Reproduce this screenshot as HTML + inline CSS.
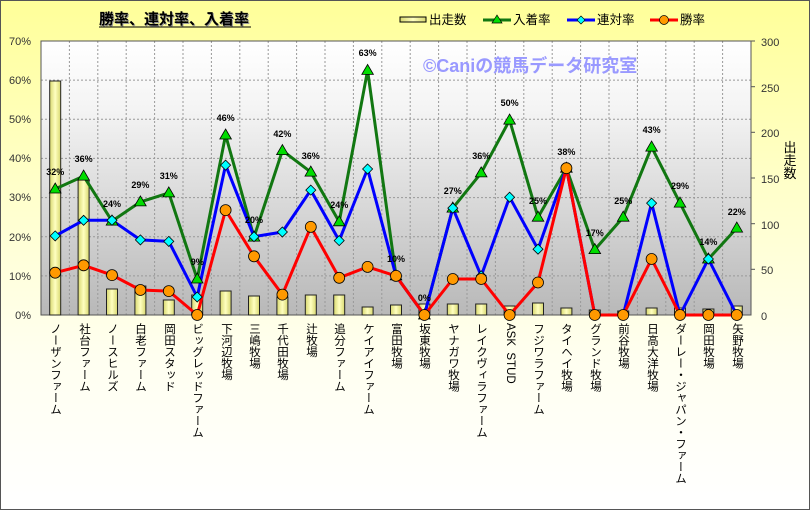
<!DOCTYPE html>
<html><head><meta charset="utf-8">
<style>
html,body{margin:0;padding:0;}
body{width:810px;height:510px;overflow:hidden;font-family:"Liberation Sans","Noto Sans CJK JP",sans-serif;}
#wrap{position:relative;width:808px;height:508px;border:1px solid #555;background:linear-gradient(to bottom,#ffff99 0%,#ffffc8 35%,#fffff0 70%,#ffffff 100%);}
.xl{position:absolute;top:322px;writing-mode:vertical-rl;font-size:11.5px;line-height:12px;color:#000;font-family:"Liberation Sans","Noto Sans CJK JP",sans-serif;white-space:nowrap;}
</style></head><body><div id="wrap">
<svg width="810" height="510" style="position:absolute;left:-1px;top:-1px" xmlns="http://www.w3.org/2000/svg">
<defs>
<linearGradient id="pg" x1="0" y1="0" x2="0" y2="1"><stop offset="0" stop-color="#ffffff"/><stop offset="0.25" stop-color="#f4f4f4"/><stop offset="1" stop-color="#b8b8b8"/></linearGradient>
<linearGradient id="bg" x1="0" y1="0" x2="1" y2="0"><stop offset="0" stop-color="#d8d870"/><stop offset="0.5" stop-color="#ffffc0"/><stop offset="1" stop-color="#d8d870"/></linearGradient>
</defs>
<text x="100" y="25" font-size="15" font-weight="bold" fill="#999" font-family="Liberation Sans,Noto Sans CJK JP,sans-serif">勝率、連対率、入着率</text>
<text x="99" y="24" font-size="15" font-weight="bold" fill="#000" font-family="Liberation Sans,Noto Sans CJK JP,sans-serif">勝率、連対率、入着率</text>
<line x1="99" y1="27" x2="251" y2="27" stroke="#000" stroke-width="1"/>
<rect x="400" y="17" width="26" height="5" fill="url(#bg)" stroke="#000"/>
<text x="429" y="24" font-size="12.5" font-family="Liberation Sans,Noto Sans CJK JP,sans-serif">出走数</text>
<line x1="483" y1="20" x2="511" y2="20" stroke="#117711" stroke-width="3"/>
<polygon points="497,15 502,23 492,23" fill="#00dd00" stroke="#000" stroke-width="0.7"/>
<text x="513" y="24" font-size="12.5" font-family="Liberation Sans,Noto Sans CJK JP,sans-serif">入着率</text>
<line x1="567" y1="20" x2="595" y2="20" stroke="#0000ff" stroke-width="3"/>
<polygon points="581,16 585,20 581,24 577,20" fill="#00ffff" stroke="#000" stroke-width="0.7"/>
<text x="597" y="24" font-size="12.5" font-family="Liberation Sans,Noto Sans CJK JP,sans-serif">連対率</text>
<line x1="650" y1="20" x2="678" y2="20" stroke="#ff0000" stroke-width="3"/>
<circle cx="664" cy="20" r="4.5" fill="#ff9900" stroke="#000" stroke-width="0.7"/>
<text x="680" y="24" font-size="12.5" font-family="Liberation Sans,Noto Sans CJK JP,sans-serif">勝率</text>
<g font-size="13" text-anchor="middle" font-family="Liberation Sans,Noto Sans CJK JP,sans-serif">
<text x="790" y="152">出</text><text x="790" y="165">走</text><text x="790" y="178">数</text>
</g>
<rect x="41" y="41" width="710" height="274" fill="url(#pg)"/>
<g stroke="#999" stroke-width="1" stroke-dasharray="2,2">
<line x1="41" y1="80.1" x2="751" y2="80.1"/><line x1="41" y1="119.3" x2="751" y2="119.3"/><line x1="41" y1="158.4" x2="751" y2="158.4"/><line x1="41" y1="197.6" x2="751" y2="197.6"/><line x1="41" y1="236.7" x2="751" y2="236.7"/><line x1="41" y1="275.9" x2="751" y2="275.9"/>
<line x1="69.4" y1="41" x2="69.4" y2="315"/><line x1="97.8" y1="41" x2="97.8" y2="315"/><line x1="126.2" y1="41" x2="126.2" y2="315"/><line x1="154.6" y1="41" x2="154.6" y2="315"/><line x1="183" y1="41" x2="183" y2="315"/><line x1="211.4" y1="41" x2="211.4" y2="315"/><line x1="239.8" y1="41" x2="239.8" y2="315"/><line x1="268.2" y1="41" x2="268.2" y2="315"/><line x1="296.6" y1="41" x2="296.6" y2="315"/><line x1="325" y1="41" x2="325" y2="315"/><line x1="353.4" y1="41" x2="353.4" y2="315"/><line x1="381.8" y1="41" x2="381.8" y2="315"/><line x1="410.2" y1="41" x2="410.2" y2="315"/><line x1="438.6" y1="41" x2="438.6" y2="315"/><line x1="467" y1="41" x2="467" y2="315"/><line x1="495.4" y1="41" x2="495.4" y2="315"/><line x1="523.8" y1="41" x2="523.8" y2="315"/><line x1="552.2" y1="41" x2="552.2" y2="315"/><line x1="580.6" y1="41" x2="580.6" y2="315"/><line x1="609" y1="41" x2="609" y2="315"/><line x1="637.4" y1="41" x2="637.4" y2="315"/><line x1="665.8" y1="41" x2="665.8" y2="315"/><line x1="694.2" y1="41" x2="694.2" y2="315"/><line x1="722.6" y1="41" x2="722.6" y2="315"/>
</g>
<rect x="41" y="41" width="710" height="274" fill="none" stroke="#555" stroke-width="1"/>
<text x="423" y="72" font-size="18" font-weight="bold" fill="#9999ff" font-family="Liberation Sans,Noto Sans CJK JP,sans-serif">©Caniの競馬データ研究室</text>
<g font-size="11" fill="#333" text-anchor="end" font-family="Liberation Sans,sans-serif">
<text x="31" y="45">70%</text><text x="31" y="84">60%</text><text x="31" y="123">50%</text><text x="31" y="162">40%</text><text x="31" y="201">30%</text><text x="31" y="241">20%</text><text x="31" y="280">10%</text><text x="31" y="319">0%</text>
</g>
<g font-size="11" fill="#333" font-family="Liberation Sans,sans-serif">
<text x="761" y="46">300</text><text x="761" y="92">250</text><text x="761" y="137">200</text><text x="761" y="183">150</text><text x="761" y="229">100</text><text x="761" y="274">50</text><text x="761" y="320">0</text>
</g>
<g stroke="#555"><line x1="751" y1="41" x2="755" y2="41"/><line x1="751" y1="86.7" x2="755" y2="86.7"/><line x1="751" y1="132.3" x2="755" y2="132.3"/><line x1="751" y1="178" x2="755" y2="178"/><line x1="751" y1="223.7" x2="755" y2="223.7"/><line x1="751" y1="269.3" x2="755" y2="269.3"/></g>
<g fill="url(#bg)" stroke="#222" stroke-width="1">
<rect x="49.7" y="81" width="11" height="234"/><rect x="78.1" y="180" width="11" height="135"/><rect x="106.5" y="289" width="11" height="26"/><rect x="134.9" y="286" width="11" height="29"/><rect x="163.3" y="300" width="11" height="15"/><rect x="191.7" y="295" width="11" height="20"/><rect x="220.1" y="291" width="11" height="24"/><rect x="248.5" y="296" width="11" height="19"/><rect x="276.9" y="297" width="11" height="18"/><rect x="305.3" y="295" width="11" height="20"/><rect x="333.7" y="295" width="11" height="20"/><rect x="362.1" y="307" width="11" height="8"/><rect x="390.5" y="305" width="11" height="10"/><rect x="418.9" y="304" width="11" height="11"/><rect x="447.3" y="304" width="11" height="11"/><rect x="475.7" y="304" width="11" height="11"/><rect x="504.1" y="306" width="11" height="9"/><rect x="532.5" y="303" width="11" height="12"/><rect x="560.9" y="308" width="11" height="7"/><rect x="589.3" y="310" width="11" height="5"/><rect x="617.7" y="311" width="11" height="4"/><rect x="646.1" y="308" width="11" height="7"/><rect x="674.5" y="308" width="11" height="7"/><rect x="702.9" y="309" width="11" height="6"/><rect x="731.3" y="306" width="11" height="9"/>
</g>
<polyline fill="none" stroke="#117711" stroke-width="3" stroke-linejoin="round" points="55.2,189 83.6,176.1 112,221.1 140.4,201.9 168.8,192.9 197.2,279 225.6,135 254,237.1 282.4,150.6 310.8,172.1 339.2,221.8 367.6,70.4 396,275.9 424.4,315 452.8,208.1 481.2,172.9 509.6,120.1 538,217.2 566.4,168.2 594.8,249.6 623.2,217.2 651.6,147.1 680,203.1 708.4,259 736.8,228.1"/>
<polyline fill="none" stroke="#0000ff" stroke-width="3" stroke-linejoin="round" points="55.2,235.9 83.6,220.3 112,220.3 140.4,239.9 168.8,241.4 197.2,297 225.6,165.1 254,236.7 282.4,232 310.8,190.1 339.2,240.6 367.6,169 396,275.9 424.4,315 452.8,208.1 481.2,275.9 509.6,197.2 538,249.2 566.4,168.2 594.8,315 623.2,315 651.6,203.1 680,315 708.4,259 736.8,315"/>
<polyline fill="none" stroke="#ff0000" stroke-width="3" stroke-linejoin="round" points="55.2,272.7 83.6,265.3 112,275.1 140.4,290 168.8,291.1 197.2,315 225.6,210.1 254,256.3 282.4,294.6 310.8,226.9 339.2,277.8 367.6,266.9 396,275.9 424.4,315 452.8,279 481.2,279 509.6,315 538,282.5 566.4,168.2 594.8,315 623.2,315 651.6,259 680,315 708.4,315 736.8,315"/>
<g fill="#00dd00" stroke="#000" stroke-width="0.8">
<polygon points="55.2,183 61,193 49.4,193"/><polygon points="83.6,170.1 89.4,180.1 77.8,180.1"/><polygon points="112,215.1 117.8,225.1 106.2,225.1"/><polygon points="140.4,195.9 146.2,205.9 134.6,205.9"/><polygon points="168.8,186.9 174.6,196.9 163,196.9"/><polygon points="197.2,273 203,283 191.4,283"/><polygon points="225.6,129 231.4,139 219.8,139"/><polygon points="254,231.1 259.8,241.1 248.2,241.1"/><polygon points="282.4,144.6 288.2,154.6 276.6,154.6"/><polygon points="310.8,166.1 316.6,176.1 305,176.1"/><polygon points="339.2,215.8 345,225.8 333.4,225.8"/><polygon points="367.6,64.4 373.4,74.4 361.8,74.4"/><polygon points="396,269.9 401.8,279.9 390.2,279.9"/><polygon points="424.4,309 430.2,319 418.6,319"/><polygon points="452.8,202.1 458.6,212.1 447,212.1"/><polygon points="481.2,166.9 487,176.9 475.4,176.9"/><polygon points="509.6,114.1 515.4,124.1 503.8,124.1"/><polygon points="538,211.2 543.8,221.2 532.2,221.2"/><polygon points="566.4,162.2 572.2,172.2 560.6,172.2"/><polygon points="594.8,243.6 600.6,253.6 589,253.6"/><polygon points="623.2,211.2 629,221.2 617.4,221.2"/><polygon points="651.6,141.1 657.4,151.1 645.8,151.1"/><polygon points="680,197.1 685.8,207.1 674.2,207.1"/><polygon points="708.4,253 714.2,263 702.6,263"/><polygon points="736.8,222.1 742.6,232.1 731,232.1"/>
</g>
<g fill="#00ffff" stroke="#000" stroke-width="0.8">
<polygon points="55.2,230.9 60.2,235.9 55.2,240.9 50.2,235.9"/><polygon points="83.6,215.3 88.6,220.3 83.6,225.3 78.6,220.3"/><polygon points="112,215.3 117,220.3 112,225.3 107,220.3"/><polygon points="140.4,234.9 145.4,239.9 140.4,244.9 135.4,239.9"/><polygon points="168.8,236.4 173.8,241.4 168.8,246.4 163.8,241.4"/><polygon points="197.2,292 202.2,297 197.2,302 192.2,297"/><polygon points="225.6,160.1 230.6,165.1 225.6,170.1 220.6,165.1"/><polygon points="254,231.7 259,236.7 254,241.7 249,236.7"/><polygon points="282.4,227 287.4,232 282.4,237 277.4,232"/><polygon points="310.8,185.1 315.8,190.1 310.8,195.1 305.8,190.1"/><polygon points="339.2,235.6 344.2,240.6 339.2,245.6 334.2,240.6"/><polygon points="367.6,164 372.6,169 367.6,174 362.6,169"/><polygon points="396,270.9 401,275.9 396,280.9 391,275.9"/><polygon points="424.4,310 429.4,315 424.4,320 419.4,315"/><polygon points="452.8,203.1 457.8,208.1 452.8,213.1 447.8,208.1"/><polygon points="481.2,270.9 486.2,275.9 481.2,280.9 476.2,275.9"/><polygon points="509.6,192.2 514.6,197.2 509.6,202.2 504.6,197.2"/><polygon points="538,244.2 543,249.2 538,254.2 533,249.2"/><polygon points="566.4,163.2 571.4,168.2 566.4,173.2 561.4,168.2"/><polygon points="651.6,198.1 656.6,203.1 651.6,208.1 646.6,203.1"/><polygon points="680,310 685,315 680,320 675,315"/><polygon points="708.4,254 713.4,259 708.4,264 703.4,259"/><polygon points="736.8,310 741.8,315 736.8,320 731.8,315"/>
</g>
<g fill="#ff9900" stroke="#000" stroke-width="0.8">
<circle cx="55.2" cy="272.7" r="5.5"/><circle cx="83.6" cy="265.3" r="5.5"/><circle cx="112" cy="275.1" r="5.5"/><circle cx="140.4" cy="290" r="5.5"/><circle cx="168.8" cy="291.1" r="5.5"/><circle cx="197.2" cy="315" r="5.5"/><circle cx="225.6" cy="210.1" r="5.5"/><circle cx="254" cy="256.3" r="5.5"/><circle cx="282.4" cy="294.6" r="5.5"/><circle cx="310.8" cy="226.9" r="5.5"/><circle cx="339.2" cy="277.8" r="5.5"/><circle cx="367.6" cy="266.9" r="5.5"/><circle cx="396" cy="275.9" r="5.5"/><circle cx="424.4" cy="315" r="5.5"/><circle cx="452.8" cy="279" r="5.5"/><circle cx="481.2" cy="279" r="5.5"/><circle cx="509.6" cy="315" r="5.5"/><circle cx="538" cy="282.5" r="5.5"/><circle cx="566.4" cy="168.2" r="5.5"/><circle cx="594.8" cy="315" r="5.5"/><circle cx="623.2" cy="315" r="5.5"/><circle cx="651.6" cy="259" r="5.5"/><circle cx="680" cy="315" r="5.5"/><circle cx="708.4" cy="315" r="5.5"/><circle cx="736.8" cy="315" r="5.5"/>
</g>
<g font-size="9" font-weight="bold" fill="#000" text-anchor="middle" font-family="Liberation Sans,sans-serif">
<text x="55.2" y="175">32%</text><text x="83.6" y="162">36%</text><text x="112" y="207">24%</text><text x="140.4" y="188">29%</text><text x="168.8" y="179">31%</text><text x="197.2" y="265">9%</text><text x="225.6" y="121">46%</text><text x="254" y="223">20%</text><text x="282.4" y="137">42%</text><text x="310.8" y="159">36%</text><text x="339.2" y="208">24%</text><text x="367.6" y="56">63%</text><text x="396" y="262">10%</text><text x="424.4" y="301">0%</text><text x="452.8" y="194">27%</text><text x="481.2" y="159">36%</text><text x="509.6" y="106">50%</text><text x="538" y="204">25%</text><text x="566.4" y="155">38%</text><text x="594.8" y="236">17%</text><text x="623.2" y="204">25%</text><text x="651.6" y="133">43%</text><text x="680" y="189">29%</text><text x="708.4" y="245">14%</text><text x="736.8" y="215">22%</text>
</g>
</svg>
<div class="xl" style="left:48px">ノーザンファーム</div>
<div class="xl" style="left:77px">社台ファーム</div>
<div class="xl" style="left:105px">ノースヒルズ</div>
<div class="xl" style="left:133px">白老ファーム</div>
<div class="xl" style="left:162px">岡田スタッド</div>
<div class="xl" style="left:190px">ビッグレッドファーム</div>
<div class="xl" style="left:219px">下河辺牧場</div>
<div class="xl" style="left:247px">三嶋牧場</div>
<div class="xl" style="left:275px">千代田牧場</div>
<div class="xl" style="left:304px">辻牧場</div>
<div class="xl" style="left:332px">追分ファーム</div>
<div class="xl" style="left:361px">ケイアイファーム</div>
<div class="xl" style="left:389px">富田牧場</div>
<div class="xl" style="left:417px">坂東牧場</div>
<div class="xl" style="left:446px">ヤナガワ牧場</div>
<div class="xl" style="left:474px">レイクヴィラファーム</div>
<div class="xl" style="left:503px">ASK&nbsp;&nbsp;STUD</div>
<div class="xl" style="left:531px">フジワラファーム</div>
<div class="xl" style="left:559px">タイヘイ牧場</div>
<div class="xl" style="left:588px">グランド牧場</div>
<div class="xl" style="left:616px">前谷牧場</div>
<div class="xl" style="left:645px">日高大洋牧場</div>
<div class="xl" style="left:673px">ダーレー・ジャパン・ファーム</div>
<div class="xl" style="left:701px">岡田牧場</div>
<div class="xl" style="left:730px">矢野牧場</div>
</div></body></html>
